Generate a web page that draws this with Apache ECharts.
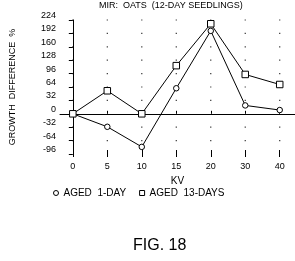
<!DOCTYPE html>
<html><head><meta charset="utf-8">
<script src="https://cdn.jsdelivr.net/npm/echarts@6/dist/echarts.min.js"></script>
<style>html,body{margin:0;padding:0;background:#fff}#c{width:295px;height:261px}</style>
</head><body><div id="c"></div>
<script>
const categories = ['0','5','10','15','20','30','40'];
const aged1Day = [0, -31, -79, 61, 198, 20, 9];
const aged13Days = [0, 55, 0, 115, 215, 94, 70];
const yTicks = [224, 192, 160, 128, 96, 64, 32, -32, -64];

const idx = categories.map((c, i) => i);
const toPairs = arr => arr.map((v, i) => [i, v]);
const dots = [];
idx.forEach(i => yTicks.forEach(t => dots.push([i, t])));

const font = 'Liberation Sans';
const chart = echarts.init(document.getElementById('c'), null, {renderer: 'canvas'});
const xBase = {type: 'value', min: -0.372, max: 6.443, gridIndex: 0, splitLine: {show: false}};
const markerStyle = {color: '#fff', borderColor: '#000', borderWidth: 1};
chart.setOption({
  animation: false,
  backgroundColor: '#fff',
  title: [
    {text: 'MIR:  OATS  (12-DAY SEEDLINGS)', left: 99, top: 1, padding: 0,
     textStyle: {fontFamily: font, fontSize: 9, fontWeight: 'normal', color: '#000'}},
    {text: 'FIG. 18', left: 133, top: 238, padding: 0,
     textStyle: {fontFamily: font, fontSize: 16, fontWeight: 'normal', color: '#000'}}
  ],
  legend: {
    left: 53, top: 188, padding: 0, itemWidth: 5, itemHeight: 5, itemGap: 13,
    textStyle: {fontFamily: font, fontSize: 10, color: '#000'},
    data: [
      {name: 'AGED  1-DAY', icon: 'circle', itemStyle: {color: '#fff', borderColor: '#000', borderWidth: 1}},
      {name: 'AGED  13-DAYS', icon: 'rect', itemStyle: {color: '#fff', borderColor: '#000', borderWidth: 1}}
    ]
  },
  grid: {left: 57, right: 0, top: 20, bottom: 107, containLabel: false},
  xAxis: [
    Object.assign({}, xBase, {
      position: 'bottom', axisLine: {onZero: true, lineStyle: {color: '#000', width: 1}},
      axisTick: {show: true, inside: true, length: 3, customValues: idx, lineStyle: {color: '#000'}},
      axisLabel: {show: false}
    }),
    Object.assign({}, xBase, {
      position: 'bottom', axisLine: {show: false, onZero: true},
      axisTick: {show: true, inside: false, length: 3, customValues: idx, lineStyle: {color: '#000'}},
      axisLabel: {show: false}
    }),
    Object.assign({}, xBase, {
      position: 'bottom', axisLine: {show: false, onZero: false},
      axisTick: {show: true, inside: true, length: 4, customValues: idx, lineStyle: {color: '#000'}},
      axisLabel: {show: true, customValues: idx, formatter: v => categories[Math.round(v)],
        fontFamily: font, fontSize: 9, color: '#000', margin: 8},
      name: 'KV', nameLocation: 'middle', nameGap: 16,
      nameTextStyle: {fontFamily: font, fontSize: 10, color: '#000'}
    }),
    Object.assign({}, xBase, {
      position: 'bottom', axisLine: {show: false, onZero: false},
      axisTick: {show: true, inside: false, length: 2, customValues: idx, lineStyle: {color: '#000'}},
      axisLabel: {show: false}
    })
  ],
  yAxis: {
    type: 'value', min: -96, max: 224, interval: 32,
    axisLine: {show: true, lineStyle: {color: '#000'}},
    axisTick: {show: true, length: 4, lineStyle: {color: '#000'}},
    axisLabel: {fontFamily: font, fontSize: 9, color: '#000', margin: 4, verticalAlign: 'bottom'},
    splitLine: {show: false},
    name: 'GROWTH  DIFFERENCE  %', nameLocation: 'middle', nameGap: 43, nameRotate: 90,
    nameTextStyle: {fontFamily: font, fontSize: 9, color: '#000'}
  },
  series: [
    {type: 'scatter', name: 'grid', data: dots, symbol: 'rect', symbolSize: 1.2,
     itemStyle: {color: '#000'}, silent: true, z: 1},
    {type: 'line', name: 'AGED  1-DAY', data: toPairs(aged1Day), symbol: 'circle', symbolSize: 5.5,
     lineStyle: {color: '#000', width: 1}, itemStyle: markerStyle, z: 3},
    {type: 'line', name: 'AGED  13-DAYS', data: toPairs(aged13Days), symbol: 'rect', symbolSize: 6.5,
     lineStyle: {color: '#000', width: 1}, itemStyle: markerStyle, z: 3}
  ]
});
</script></body></html>
